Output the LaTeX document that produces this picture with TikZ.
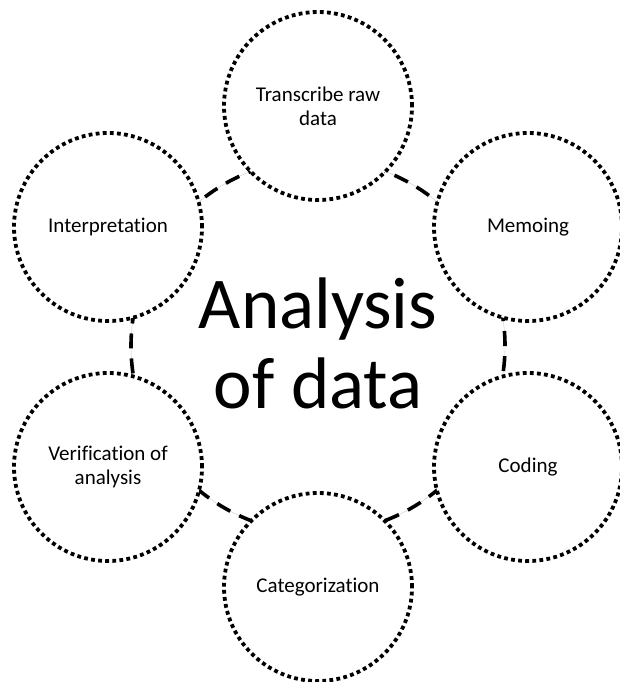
\documentclass[tikz,border=0pt]{standalone}
\usepackage{fontspec}
\setmainfont{Carlito}[Ligatures={NoCommon}]
\begin{document}
\begin{tikzpicture}[x=1pt,y=-1pt,
  stagecircle/.style={circle, draw=black, fill=white, line width=3.8pt,
    dash pattern=on 3.8pt off 3.3pt, minimum size=188pt, inner sep=0pt,
    align=center, font=\fontsize{21}{24}\selectfont},
  hubcircle/.style={circle, draw=black, line width=3.6pt,
    dash pattern=on 15pt off 10pt, minimum size=374pt, inner sep=0pt},
  hubtext/.style={align=center, inner sep=0pt, font=\fontsize{73}{80}\selectfont},
  hubguide/.style={circle, draw=gray!45, line width=0.4pt, minimum size=374pt, inner sep=0pt}]
\useasboundingbox (0,0) rectangle (620,682);
\node[hubguide] (guide) at (318,346) {};
\node[hubcircle] (hub) at (318,346) {};
\node[hubtext] (hublabel) at (318,343) {Analysis\\of data};
\node[stagecircle] (transcribe) at (318,106) {Transcribe raw\\data};
\node[stagecircle] (memoing) at (528,227) {Memoing};
\node[stagecircle] (coding) at (528,467) {Coding};
\node[stagecircle] (categ) at (318,587) {Categorization};
\node[stagecircle] (verif) at (108,467) {Verification of\\analysis};
\node[stagecircle] (interp) at (108,227) {Interpretation};
\end{tikzpicture}
\end{document}
